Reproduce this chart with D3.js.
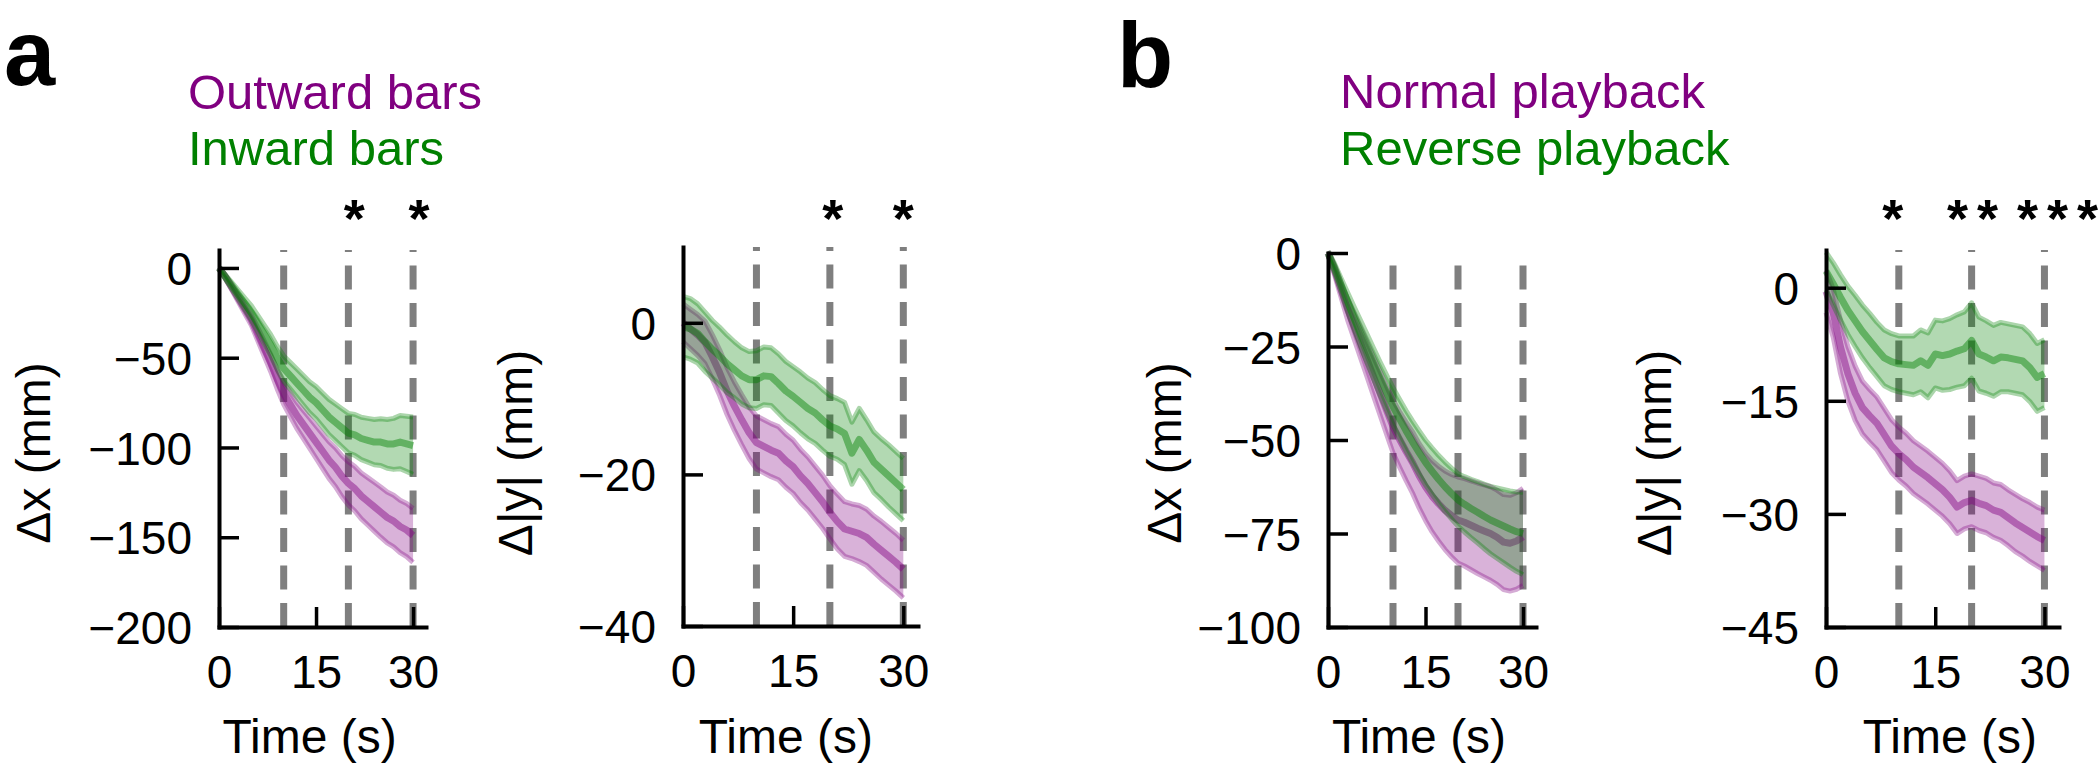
<!DOCTYPE html>
<html><head><meta charset="utf-8">
<script src="https://cdn.jsdelivr.net/npm/d3@7"></script>
<style>body{margin:0;background:#fff} svg{display:block} text{font-family:"Liberation Sans",Arial,sans-serif}</style>
</head><body><svg id="c" width="2100" height="770"></svg>
<script>
// ---------- data ----------
const time = [0,1,2,3,4,5,6,7,8,9,10,11,12,13,14,15,16,17,18,19,20,21,22,23,24,25,26,27,28,29,30];
const xTicks = [0,15,30];
const markTimes = [10,20,30];

// Panel a: outward (purple) vs inward (green) bars
const aDxOutMean = [0,-5,-11,-17,-23,-29,-37,-45,-53,-62,-70,-76,-82,-87,-92,-97,-102,-107,-111,-116,-120,-123,-127,-130,-133,-136,-139,-141,-144,-146,-149];
const aDxOutSem  = [0.5,1,1.5,2,2.5,3,3.6,4.2,4.8,5.4,6,6.6,7.2,7.8,8.4,9,9.6,10.2,10.8,11.4,12,12.4,12.8,13.2,13.6,14,14.2,14.4,14.6,14.8,15];
const aDxInMean  = [0,-5,-10,-15,-20,-25,-31,-37,-43,-50,-56,-60,-64,-68,-72,-75,-79,-83,-86,-89,-92,-93,-95,-96,-97,-97,-98,-98,-97,-98,-99];
const aDxInSem   = [0.5,1.2,1.8,2.5,3.2,4,4.6,5.2,5.8,6.4,7,7.4,7.8,8.2,8.6,9,9.4,9.8,10.2,10.6,11,11.4,11.8,12.2,12.6,13,13.6,14.2,14.8,15.4,16];
const aDyOutMean = [0,-0.8,-1.6,-2.6,-4.5,-6.6,-9,-11,-12.8,-14.5,-15.8,-16.3,-16.8,-17.2,-18.2,-19,-20.2,-21.2,-22.4,-23.6,-25,-26.2,-27.2,-27.5,-27.8,-28.3,-29.2,-30,-30.8,-31.6,-32.5];
const aDyOutSem  = [2.5,2.6,2.7,2.8,2.9,3,3.1,3.2,3.3,3.4,3.5,3.5,3.5,3.5,3.5,3.5,3.5,3.5,3.5,3.5,3.5,3.6,3.6,3.6,3.7,3.7,3.7,3.8,3.8,3.8,3.8];
const aDyInMean  = [-0.5,-0.8,-1.4,-2.5,-3.5,-4.4,-5.4,-6.2,-7,-7.5,-7.5,-7,-7.1,-8,-9,-9.7,-10.5,-11.3,-11.9,-12.8,-13.6,-14,-14.6,-17.2,-15.4,-16.8,-18.4,-19.3,-20.2,-21.1,-22];
const aDyInSem   = [4,4,3.9,3.9,3.8,3.8,3.8,3.7,3.7,3.7,3.8,3.8,3.8,3.9,3.9,3.9,4,4,4,4,4,4,4.1,4.1,4.1,4,4,4,4.1,4.1,4.1];

// Panel b: normal (purple) vs reverse (green) playback
const bDxNormMean = [0,-4.5,-9.8,-15,-19.5,-24,-28.5,-33,-37.5,-42,-46.4,-49.8,-53,-56,-59.5,-62.5,-65,-67,-68.8,-70.2,-71.4,-72,-72.8,-73.6,-74.3,-75,-76,-77.3,-77.6,-77,-75.9];
const bDxNormSem  = [0.5,1.3,2,2.8,3.4,4,4.6,5.2,5.8,6.4,7,7.4,7.8,8.2,8.6,9,9.5,10,10.5,11,11.5,11.7,11.9,12.1,12.3,12.5,12.6,12.7,12.8,12.9,13];
const bDxRevMean  = [0,-4,-8.5,-13,-17.3,-21.5,-25.5,-29.5,-33.5,-37.3,-41,-44.3,-47.5,-50.5,-53.3,-56,-58.3,-60.5,-62.5,-64.3,-66,-67.2,-68.3,-69.3,-70.4,-71.4,-72.2,-73,-73.8,-74.5,-75];
const bDxRevSem   = [0.5,1.2,1.8,2.5,3,3.5,3.8,4.1,4.4,4.7,5,5.2,5.4,5.6,5.8,6,6.2,6.4,6.6,6.8,7,7.4,7.8,8.2,8.6,9,9.4,9.8,10.2,10.6,11];
const bDyNormMean = [-0.5,-3.4,-7.9,-11.4,-14,-15.9,-17,-18,-19.5,-21,-22,-22.8,-23.8,-24.5,-25.2,-26,-26.8,-27.8,-29.1,-28.5,-28.2,-28.6,-28.9,-29.5,-29.8,-30.5,-31.2,-31.8,-32.4,-33,-33.5];
const bDyNormSem  = [2.8,3.2,3.5,3.6,3.6,3.5,3.5,3.5,3.5,3.5,3.5,3.5,3.5,3.5,3.5,3.5,3.5,3.5,3.5,3.5,3.5,3.6,3.6,3.6,3.7,3.7,3.8,3.8,3.9,3.9,4];
const bDyRevMean  = [2.2,0.5,-1.3,-3,-4.4,-5.8,-7,-8.2,-9.3,-9.8,-10.1,-10.2,-10.3,-9.7,-10.3,-8.8,-9,-8.8,-8.4,-8.1,-7,-8.8,-9.2,-9.7,-9.2,-9.3,-9.5,-9.7,-10.6,-11.9,-11.4];
const bDyRevSem   = [2.5,2.8,3,3.2,3.4,3.5,3.6,3.6,3.7,3.7,3.7,3.8,3.9,4.1,4.3,4.5,4.6,4.7,4.8,4.9,5,4.9,4.8,4.7,4.6,4.5,4.5,4.5,4.5,4.5,4.5];

const aDxTicks = [0,-50,-100,-150,-200];
const aDyTicks = [0,-20,-40];
const bDxTicks = [0,-25,-50,-75,-100];
const bDyTicks = [0,-15,-30,-45];

const aStars = ["", "*", "*"];
const bDyStars = ["*", "**", "***"];

const legendA = ["Outward bars", "Inward bars"];
const legendB = ["Normal playback", "Reverse playback"];

// ---------- drawing ----------
const PURPLE = "#800080", GREEN = "#008000";
const svg = d3.select("#c");
const fmt = v => String(v).replace("-", "\u2212");

const panels = [
  {xr:[219,426], yd:[-200,10], yr:[627,250], ticks:aDxTicks, ylab:"\u0394x (mm)", ylabX:50,
   series:[{m:aDxOutMean,e:aDxOutSem,c:PURPLE},{m:aDxInMean,e:aDxInSem,c:GREEN}], stars:aStars, starDx:[0,6,6], xlabT:14},
  {xr:[683,918], yd:[-40,10], yr:[626,247], ticks:aDyTicks, ylab:"\u0394|y| (mm)", ylabX:532,
   series:[{m:aDyOutMean,e:aDyOutSem,c:PURPLE},{m:aDyInMean,e:aDyInSem,c:GREEN}], stars:aStars, starDx:[0,3,0], xlabT:14},
  {xr:[1328,1536], yd:[-100,0], yr:[627,253], ticks:bDxTicks, ylab:"\u0394x (mm)", ylabX:1181,
   series:[{m:bDxNormMean,e:bDxNormSem,c:PURPLE},{m:bDxRevMean,e:bDxRevSem,c:GREEN}], stars:null, starDx:[0,0,0], xlabT:14},
  {xr:[1826,2059], yd:[-45,5], yr:[627,250], ticks:bDyTicks, ylab:"\u0394|y| (mm)", ylabX:1671,
   series:[{m:bDyNormMean,e:bDyNormSem,c:PURPLE},{m:bDyRevMean,e:bDyRevSem,c:GREEN}], stars:bDyStars, starDx:[-6,1,13], xlabT:17}
];

const STAR_STEP = 30;

panels.forEach(p => {
  const x = d3.scaleLinear().domain([0,32]).range(p.xr);
  const y = d3.scaleLinear().domain(p.yd).range(p.yr);
  const g = svg.append("g");

  // dashed time markers
  markTimes.forEach(t => {
    g.append("line")
      .attr("x1", x(t)).attr("x2", x(t))
      .attr("y1", y(p.yd[0])).attr("y2", y(p.yd[1]))
      .attr("stroke", "#7f7f7f").attr("stroke-width", 7)
      .attr("stroke-dasharray", "24,13.5");
  });

  // bands and means
  p.series.forEach(s => {
    const pts = time.map((t,i) => ({t, m:s.m[i], e:s.e[i]}));
    const area = d3.area().x(d => x(d.t)).y0(d => y(d.m - d.e)).y1(d => y(d.m + d.e));
    g.append("path").attr("d", area(pts)).attr("fill", s.c).attr("fill-opacity", 0.3);
    const lu = d3.line().x(d => x(d.t)).y(d => y(d.m + d.e));
    const ll = d3.line().x(d => x(d.t)).y(d => y(d.m - d.e));
    const lm = d3.line().x(d => x(d.t)).y(d => y(d.m));
    [lu, ll].forEach(l => g.append("path").attr("d", l(pts)).attr("fill","none")
      .attr("stroke", s.c).attr("stroke-opacity", 0.33).attr("stroke-width", 5).attr("stroke-linejoin","round"));
    g.append("path").attr("d", lm(pts)).attr("fill","none")
      .attr("stroke", s.c).attr("stroke-opacity", 0.45).attr("stroke-width", 7).attr("stroke-linejoin","round");
  });

  // axes
  const xa = g.append("g").attr("transform", `translate(0,${y(p.yd[0])})`)
    .call(d3.axisBottom(x).tickValues(xTicks).tickSizeInner(-20).tickSizeOuter(0).tickPadding(28).tickFormat(fmt));
  const ya = g.append("g").attr("transform", `translate(${x(0)},0)`)
    .call(d3.axisLeft(y).tickValues(p.ticks).tickSizeInner(-20).tickSizeOuter(0).tickPadding(27).tickFormat(fmt));
  [xa, ya].forEach(a => {
    a.attr("font-family", null).attr("font-size", null);
    a.select(".domain").attr("stroke", "#000").attr("stroke-width", 4).attr("stroke-linecap", "square");
    a.selectAll(".tick line").attr("stroke", "#000").attr("stroke-width", 3.5);
    a.selectAll(".tick text").attr("fill", "#000").style("font-size", "46px");
  });
  ya.selectAll(".tick text").attr("dy", "0.36em");

  // axis labels
  g.append("text").attr("x", x(p.xlabT)).attr("y", 753).attr("text-anchor", "middle")
    .style("font-size", "48px").text("Time (s)");
  g.append("text").attr("transform", `translate(${p.ylabX},453) rotate(-90)`)
    .attr("text-anchor", "middle").style("font-size", "48px").text(p.ylab);

  // significance stars (one glyph per text so no trailing spacing)
  if (p.stars) {
    p.stars.forEach((s, i) => {
      const n = s.length;
      for (let k = 0; k < n; k++) {
        g.append("text")
          .attr("x", x(markTimes[i]) + p.starDx[i] + (k - (n - 1) / 2) * STAR_STEP)
          .attr("y", 237).attr("text-anchor", "middle")
          .style("font-size", "54px").style("font-weight", "bold").text("*");
      }
    });
  }
});

// panel letters
svg.append("text").attr("x", 4).attr("y", 85).style("font-size", "92px").style("font-weight", "bold").text("a");
svg.append("text").attr("x", 1117).attr("y", 87).style("font-size", "92px").style("font-weight", "bold").text("b");

// legends
legendA.forEach((t, i) => svg.append("text").attr("x", 188).attr("y", 109 + i*56)
  .style("font-size", "49px").attr("fill", i === 0 ? PURPLE : GREEN).text(t));
legendB.forEach((t, i) => svg.append("text").attr("x", 1340).attr("y", 108 + i*57)
  .style("font-size", "49px").attr("fill", i === 0 ? PURPLE : GREEN).text(t));
</script></body></html>
